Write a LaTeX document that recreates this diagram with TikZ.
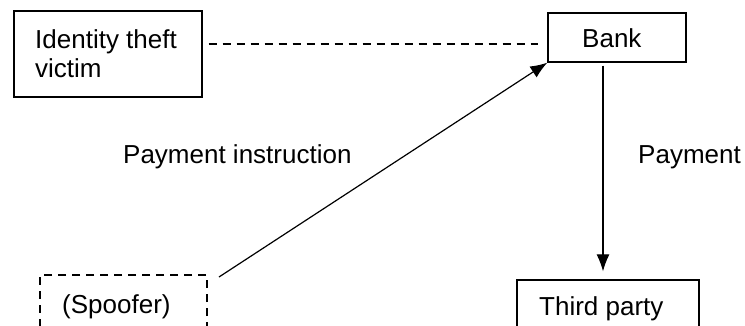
\documentclass[tikz,border=0pt]{standalone}
\usepackage{fontspec}
\setmainfont{Liberation Sans}
\usetikzlibrary{arrows.meta,calc}
\begin{document}
\begin{tikzpicture}[x=1pt,y=-1pt,
  box/.style={draw,line width=1.3pt,inner sep=0pt,minimum width=#1},
  lbl/.style={anchor=base west,inner sep=0pt,font=\fontsize{26}{30}\selectfont},
  dline/.style={line width=1.2pt,dash pattern=on 8pt off 6pt},
  arr/.style={line width=1.2pt,-{Latex[length=17pt,width=13pt]}}]
\useasboundingbox (0,0) rectangle (745,325);
\clip (0,0) rectangle (745,325);
\node[box=188pt,minimum height=86pt] (id) at (108,54) {};
\node[box=138pt,minimum height=49pt] (bank) at (617,37.5) {};
\node[box=182pt,minimum height=66pt] (third) at (608,313) {};
\node[box=167pt,minimum height=70pt,dline] (spoof) at (123.5,310) {};
\node[lbl] (t1) at (35,48) {Identity theft};
\node[lbl] (t2) at (35,77) {victim};
\node[lbl] (t3) at (582,47) {Bank};
\node[lbl] (t4) at (539,315) {Third party};
\node[lbl] (t5) at (62,313) {(Spoofer)};
\node[lbl] (t6) at (123,163) {Payment instruction};
\node[lbl] (t7) at (638,163) {Payment};
\coordinate (dy) at (0,44);
\coordinate (vx) at (603,0);
\coordinate (ds) at (219,277);
\draw[dline] ($(id.east |- dy)+(6,0)$) -- ($(bank.west |- dy)+(-9,0)$);
\draw[arr] (ds) -- (bank.south west);
\draw[arr,shorten <=3pt,shorten >=8pt] (bank.south -| vx) -- (third.north -| vx);
\end{tikzpicture}
\end{document}
